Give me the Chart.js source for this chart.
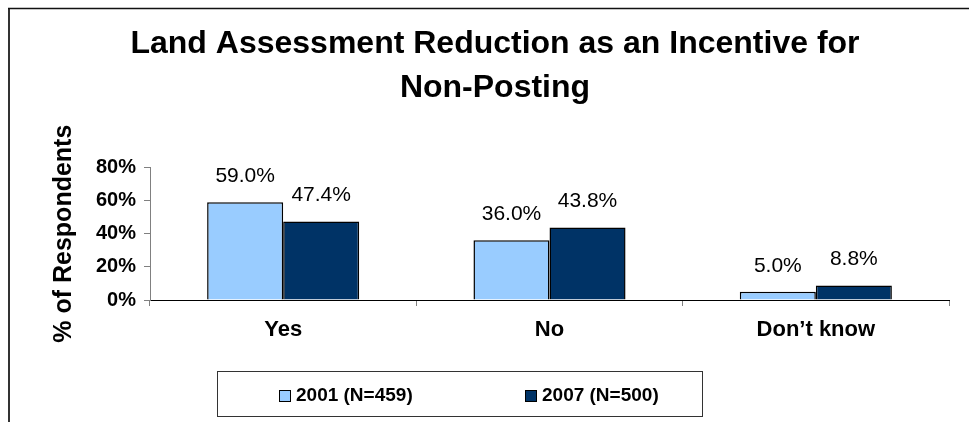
<!DOCTYPE html>
<html>
<head>
<meta charset="utf-8">
<title>Land Assessment Reduction</title>
<script src="https://cdn.jsdelivr.net/npm/chart.js@4/dist/chart.umd.min.js"></script>
<style>
    body { margin: 0; background: #fff; }
    #wrap { width: 969px; height: 422px; position: relative; }
</style>
</head>
<body>
<div id="wrap"><canvas id="landChart"></canvas></div>
<script>
// survey answers
var categories = ['Yes', 'No', 'Don\u2019t know'];
var seriesNames = ['2001 (N=459)', '2007 (N=500)'];
var values2001 = [59.0, 36.0, 5.0];
var values2007 = [47.4, 43.8, 8.8];
var yTicks = [0, 20, 40, 60, 80];

var fillColors = ['#99CCFF', '#003366'];

//Frame around the whole chart (left and top edges show)
var framePlugin = {
    id: 'frame',
    afterDraw: function(chart) {
        var ctx = chart.ctx;
        ctx.save();
        ctx.strokeStyle = '#333333';
        ctx.lineWidth = 2;
        ctx.beginPath();
        ctx.moveTo(9, 8);
        ctx.lineTo(9, chart.height);
        ctx.stroke();
        ctx.strokeStyle = '#111111';
        ctx.lineWidth = 1.5;
        ctx.beginPath();
        ctx.moveTo(8, 8.5);
        ctx.lineTo(chart.width, 8.5);
        ctx.stroke();
        ctx.restore();
    }
};

//Values written above each bar
var valueLabelPlugin = {
    id: 'valueLabels',
    afterDatasetsDraw: function(chart) {
        var ctx = chart.ctx;
        ctx.save();
        ctx.font = '21px "Liberation Sans", Arial, sans-serif';
        ctx.fillStyle = '#000';
        ctx.textAlign = 'center';
        ctx.textBaseline = 'alphabetic';
        chart.data.datasets.forEach(function(ds, i) {
            chart.getDatasetMeta(i).data.forEach(function(bar, j) {
                ctx.fillText(ds.data[j].toFixed(1) + '%', bar.x, bar.y - 20);
            });
        });
        ctx.restore();
    }
};

//Boxed legend under the axis
var boxLegendPlugin = {
    id: 'boxLegend',
    afterDraw: function(chart) {
        var ctx = chart.ctx;
        ctx.save();
        ctx.strokeStyle = '#333333';
        ctx.lineWidth = 1;
        ctx.fillStyle = '#fff';
        ctx.fillRect(217.5, 371.5, 485, 45);
        ctx.strokeRect(217.5, 371.5, 485, 45);

        var itemX = [279, 525];
        ctx.font = 'bold 19px "Liberation Sans", Arial, sans-serif';
        ctx.textBaseline = 'middle';
        ctx.textAlign = 'left';
        chart.data.datasets.forEach(function(ds, i) {
            ctx.fillStyle = ds.backgroundColor;
            ctx.fillRect(itemX[i] + 0.5, 390.5, 11, 11);
            ctx.strokeStyle = '#000';
            ctx.strokeRect(itemX[i] + 0.5, 390.5, 11, 11);
            ctx.fillStyle = '#000';
            ctx.fillText(ds.label, itemX[i] + 17, 396);
        });
        ctx.restore();
    }
};

var ctx = document.getElementById('landChart').getContext('2d');
var landChart = new Chart(ctx, {
    type: 'bar',
    data: {
        labels: categories,
        datasets: [{
            label: seriesNames[0],
            data: values2001,
            backgroundColor: fillColors[0],
            borderColor: '#000',
            borderWidth: 1.5
        }, {
            label: seriesNames[1],
            data: values2007,
            backgroundColor: fillColors[1],
            borderColor: '#000',
            borderWidth: 1.5
        }]
    },
    options: {
        responsive: true,
        maintainAspectRatio: false,
        animation: false,
        categoryPercentage: 0.571,
        barPercentage: 1.0,
        layout: {
            padding: { left: 41, right: 20, top: 0, bottom: 0 }
        },
        plugins: {
            legend: { display: false },
            tooltip: { enabled: false },
            title: {
                display: true,
                text: ['Land Assessment Reduction as an Incentive for', 'Non-Posting'],
                color: '#000',
                font: { family: '"Liberation Sans", Arial, sans-serif', size: 32, weight: 'bold', lineHeight: 1.35 },
                padding: { top: 23, bottom: 58 }
            }
        },
        scales: {
            x: {
                grid: { drawOnChartArea: false, tickLength: 6, color: '#808080', offset: true },
                border: { color: '#000', width: 1 },
                ticks: {
                    color: '#000',
                    padding: 11,
                    font: { family: '"Liberation Sans", Arial, sans-serif', size: 22, weight: 'bold' }
                },
                afterFit: function(scale) { scale.height = 122; }
            },
            y: {
                min: 0,
                max: 80,
                afterBuildTicks: function(scale) {
                    scale.ticks = yTicks.map(function(v) { return { value: v }; });
                },
                grid: { drawOnChartArea: false, tickLength: 6, color: '#808080' },
                border: { color: '#808080', width: 1 },
                ticks: {
                    color: '#000',
                    padding: 8,
                    font: { family: '"Liberation Sans", Arial, sans-serif', size: 20, weight: 'bold' },
                    callback: function(v) { return v + '%'; }
                },
                title: {
                    display: true,
                    text: '% of Respondents',
                    color: '#000',
                    font: { family: '"Liberation Sans", Arial, sans-serif', size: 25, weight: 'bold' },
                    padding: { top: 8, bottom: 0 }
                },
                afterFit: function(scale) { scale.width = 109; }
            }
        }
    },
    plugins: [valueLabelPlugin, boxLegendPlugin, framePlugin]
});
</script>
</body>
</html>
